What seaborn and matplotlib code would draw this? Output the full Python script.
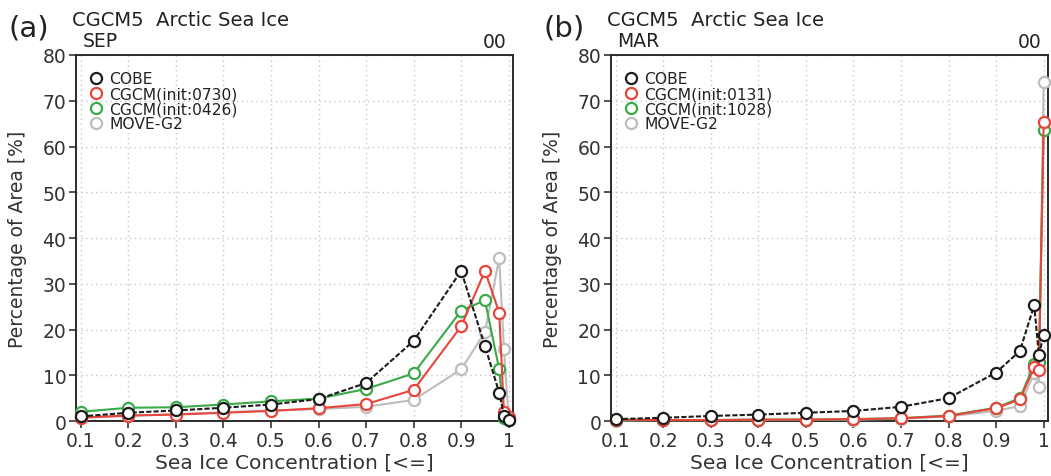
import matplotlib
matplotlib.use("Agg")
import matplotlib.pyplot as plt
import seaborn as sns
import pandas as pd
from matplotlib.lines import Line2D

# ---- data ----
conc = [0.1, 0.2, 0.3, 0.4, 0.5, 0.6, 0.7, 0.8, 0.9, 0.95, 0.98, 0.99, 1.0]
xtick_vals = [0.1, 0.2, 0.3, 0.4, 0.5, 0.6, 0.7, 0.8, 0.9, 1.0]
xtick_labels = ["0.1", "0.2", "0.3", "0.4", "0.5", "0.6", "0.7", "0.8", "0.9", "1"]
ytick_vals = [0, 10, 20, 30, 40, 50, 60, 70, 80]

# panel (a) SEP
sep_cobe = [1.0, 1.8, 2.3, 2.9, 3.6, 4.8, 8.3, 17.5, 32.8, 16.4, 6.2, 1.2, 0.3]
sep_cgcm_0730 = [0.7, 1.2, 1.4, 1.8, 2.2, 2.8, 3.7, 6.8, 20.7, 32.8, 23.7, 2.0, 0.8]
sep_cgcm_0426 = [2.0, 2.9, 3.0, 3.6, 4.3, 4.9, 7.0, 10.4, 24.1, 26.4, 11.3, 0.6, 0.2]
sep_move = [0.8, 1.1, 1.5, 1.9, 2.3, 2.6, 3.1, 4.6, 11.3, 19.4, 35.6, 15.7, 0.5]

# panel (b) MAR
mar_cobe = [0.4, 0.7, 1.1, 1.4, 1.8, 2.2, 3.1, 5.0, 10.6, 15.3, 25.3, 14.4, 18.8]
mar_cgcm_0131 = [0.3, 0.2, 0.2, 0.3, 0.3, 0.4, 0.6, 1.1, 2.8, 4.7, 11.7, 11.2, 65.4]
mar_cgcm_1028 = [0.3, 0.2, 0.2, 0.3, 0.3, 0.4, 0.6, 1.2, 2.9, 5.0, 12.4, 13.0, 63.7]
mar_move = [0.1, 0.2, 0.2, 0.2, 0.3, 0.3, 0.5, 1.0, 2.2, 3.3, 10.5, 7.4, 74.2]

C_BLACK = "#1c1c1c"
C_RED = "#e8453c"
C_GREEN = "#3aaa48"
C_GRAY = "#bdbdbd"

sns.set_theme(style="white")
plt.rcParams["font.family"] = ["DejaVu Sans"]

fig = plt.figure(figsize=(10.51, 4.77), dpi=100)
ax_a = fig.add_axes([0.0723, 0.1153, 0.4158, 0.7673])
ax_b = fig.add_axes([0.5813, 0.1153, 0.4158, 0.7673])

panels = [
    (ax_a, "(a)", "SEP",
     [("MOVE-G2", sep_move, C_GRAY), ("CGCM(init:0426)", sep_cgcm_0426, C_GREEN),
      ("CGCM(init:0730)", sep_cgcm_0730, C_RED), ("COBE", sep_cobe, C_BLACK)],
     ["COBE", "CGCM(init:0730)", "CGCM(init:0426)", "MOVE-G2"]),
    (ax_b, "(b)", "MAR",
     [("MOVE-G2", mar_move, C_GRAY), ("CGCM(init:1028)", mar_cgcm_1028, C_GREEN),
      ("CGCM(init:0131)", mar_cgcm_0131, C_RED), ("COBE", mar_cobe, C_BLACK)],
     ["COBE", "CGCM(init:0131)", "CGCM(init:1028)", "MOVE-G2"]),
]

for ax, tag, month, series, leg_order in panels:
    colors = {}
    for z, (name, vals, col) in enumerate(series):
        colors[name] = col
        df = pd.DataFrame({"x": conc, "y": vals})
        ls = (0, (2.5, 1.0)) if col == C_BLACK else "-"
        sns.lineplot(data=df, x="x", y="y", ax=ax, color=col, linewidth=1.5,
                     linestyle=ls, marker="o", markersize=8,
                     markerfacecolor="white", markeredgecolor=col,
                     markeredgewidth=1.6, zorder=3 + z, clip_on=False)
    ax.set_xlim(0.09, 1.009)
    ax.set_ylim(0, 80)
    ax.set_xticks(xtick_vals)
    ax.set_xticklabels(xtick_labels)
    ax.set_yticks(ytick_vals)
    ax.tick_params(axis="both", which="major", labelsize=13.5, length=5, width=1.2,
                   direction="out", colors="#333333", bottom=True, left=True, pad=2)
    ax.grid(True, color="#c8c8c8", linestyle=(0, (1, 2.5)), linewidth=1.0)
    for sp in ax.spines.values():
        sp.set_visible(True)
        sp.set_color("#2a2a2a")
        sp.set_linewidth(1.4)
    ax.set_xlabel("Sea Ice Concentration [<=]", fontsize=14.5, color="#333333", labelpad=2)
    ax.set_ylabel("Percentage of Area [%]", fontsize=13.5, color="#333333", labelpad=11)

    handles = [Line2D([], [], linestyle="none", marker="o", markersize=8,
                      markerfacecolor="white", markeredgecolor=colors[n],
                      markeredgewidth=1.6) for n in leg_order]
    ax.legend(handles, leg_order, loc="upper left", bbox_to_anchor=(0.0, 0.985),
              frameon=False, fontsize=11.2, labelspacing=0.0, handletextpad=0.25,
              handlelength=1.2, borderaxespad=0.3, labelcolor="#222222")

    bb = ax.get_position()
    fig.text(bb.x0 - 0.064, 0.94, tag, fontsize=21, color="#222222", ha="left", va="center")
    fig.text(bb.x0 - 0.004, 0.958, "CGCM5  Arctic Sea Ice", fontsize=14, color="#222222",
             ha="left", va="center")
    fig.text(bb.x0 + 0.006, 0.913, month, fontsize=13.5, color="#222222", ha="left", va="center")
    fig.text(bb.x1 - 0.006, 0.91, "00", fontsize=13.5, color="#222222", ha="right", va="center")

fig.savefig("out.png", dpi=100)
